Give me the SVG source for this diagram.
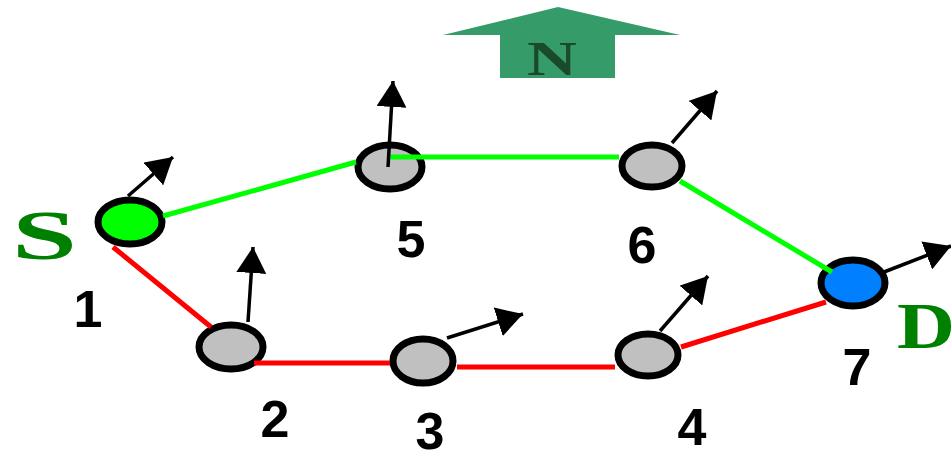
<svg xmlns="http://www.w3.org/2000/svg" width="951" height="457" viewBox="0 0 951 457">
<defs>
<style>
.node{stroke:#000;stroke-width:7}
.gray{fill:#c0c0c0}
.num{font-family:"Liberation Sans",Arial,sans-serif;font-weight:bold;font-size:52px;fill:#000;text-anchor:middle}
.big{font-family:"Liberation Serif","Times New Roman",serif;font-weight:bold;fill:#008000}
.g{stroke:#00ff00;stroke-width:5;fill:none}
.r{stroke:#ff0000;stroke-width:5;fill:none}
.dir{stroke:#000;stroke-width:3.5;marker-end:url(#ah)}
</style>
<marker id="ah" markerUnits="userSpaceOnUse" markerWidth="26" markerHeight="30" viewBox="0 0 26 30" refX="26" refY="15" orient="auto">
<path d="M0,0 L26,15 L0,30 Z" fill="#000"/>
</marker>
</defs>
<rect width="951" height="457" fill="#fff"/>
<g id="north">
<polygon points="443,35 558,7 680,35 615,35 615,78 500,78 500,35" fill="#359b68"/>
<text x="527" y="75" font-family="'Liberation Serif','Times New Roman',serif" font-weight="bold" font-size="48" fill="#1a4a2c" textLength="50" lengthAdjust="spacingAndGlyphs">N</text>
</g>
<g id="labels">
<text class="big" x="12" y="259" font-size="70" textLength="65" lengthAdjust="spacingAndGlyphs">S</text>
<text class="big" x="897" y="348" font-size="65" textLength="58" lengthAdjust="spacingAndGlyphs">D</text>
</g>
<g id="node1"><ellipse class="node" cx="130" cy="222" rx="32" ry="22" fill="#00ff00"/><text class="num" x="88" y="327">1</text></g>
<g id="node2"><ellipse class="node gray" cx="231" cy="347" rx="32" ry="22"/><text class="num" x="275" y="437">2</text></g>
<g id="node3"><ellipse class="node gray" cx="423" cy="361" rx="30" ry="22"/><text class="num" x="430" y="449">3</text></g>
<g id="node4"><ellipse class="node gray" cx="648" cy="355" rx="30" ry="21"/><text class="num" x="692" y="445">4</text></g>
<g id="node5"><ellipse class="node gray" cx="390" cy="167" rx="32" ry="22"/><text class="num" x="411" y="257">5</text></g>
<g id="node6"><ellipse class="node gray" cx="652" cy="166" rx="30" ry="21"/><text class="num" x="642" y="263">6</text></g>
<g id="node7"><ellipse class="node" cx="853" cy="283" rx="32" ry="23" fill="#0080ff"/><text class="num" x="857" y="385">7</text></g>
<g id="connectors">
<line class="g" x1="163" y1="216" x2="356" y2="162"/>
<line class="g" x1="390" y1="157" x2="619" y2="157"/>
<line class="g" x1="680" y1="181" x2="832" y2="272"/>
<line class="r" x1="113" y1="247" x2="211" y2="327"/>
<line class="r" x1="254" y1="363" x2="390" y2="363"/>
<line class="r" x1="457" y1="367" x2="615" y2="367"/>
<line class="r" x1="681" y1="347" x2="826" y2="302"/>
<line class="dir" x1="128" y1="196" x2="173" y2="157"/>
<line class="dir" x1="248" y1="322" x2="253" y2="247"/>
<line class="dir" x1="447" y1="338" x2="523" y2="314"/>
<line class="dir" x1="660" y1="331" x2="708" y2="276"/>
<line class="dir" x1="388" y1="167" x2="393" y2="81"/>
<line class="dir" x1="672" y1="143" x2="717" y2="91"/>
<line class="dir" x1="884" y1="272" x2="951" y2="246"/>
</g>
</svg>
